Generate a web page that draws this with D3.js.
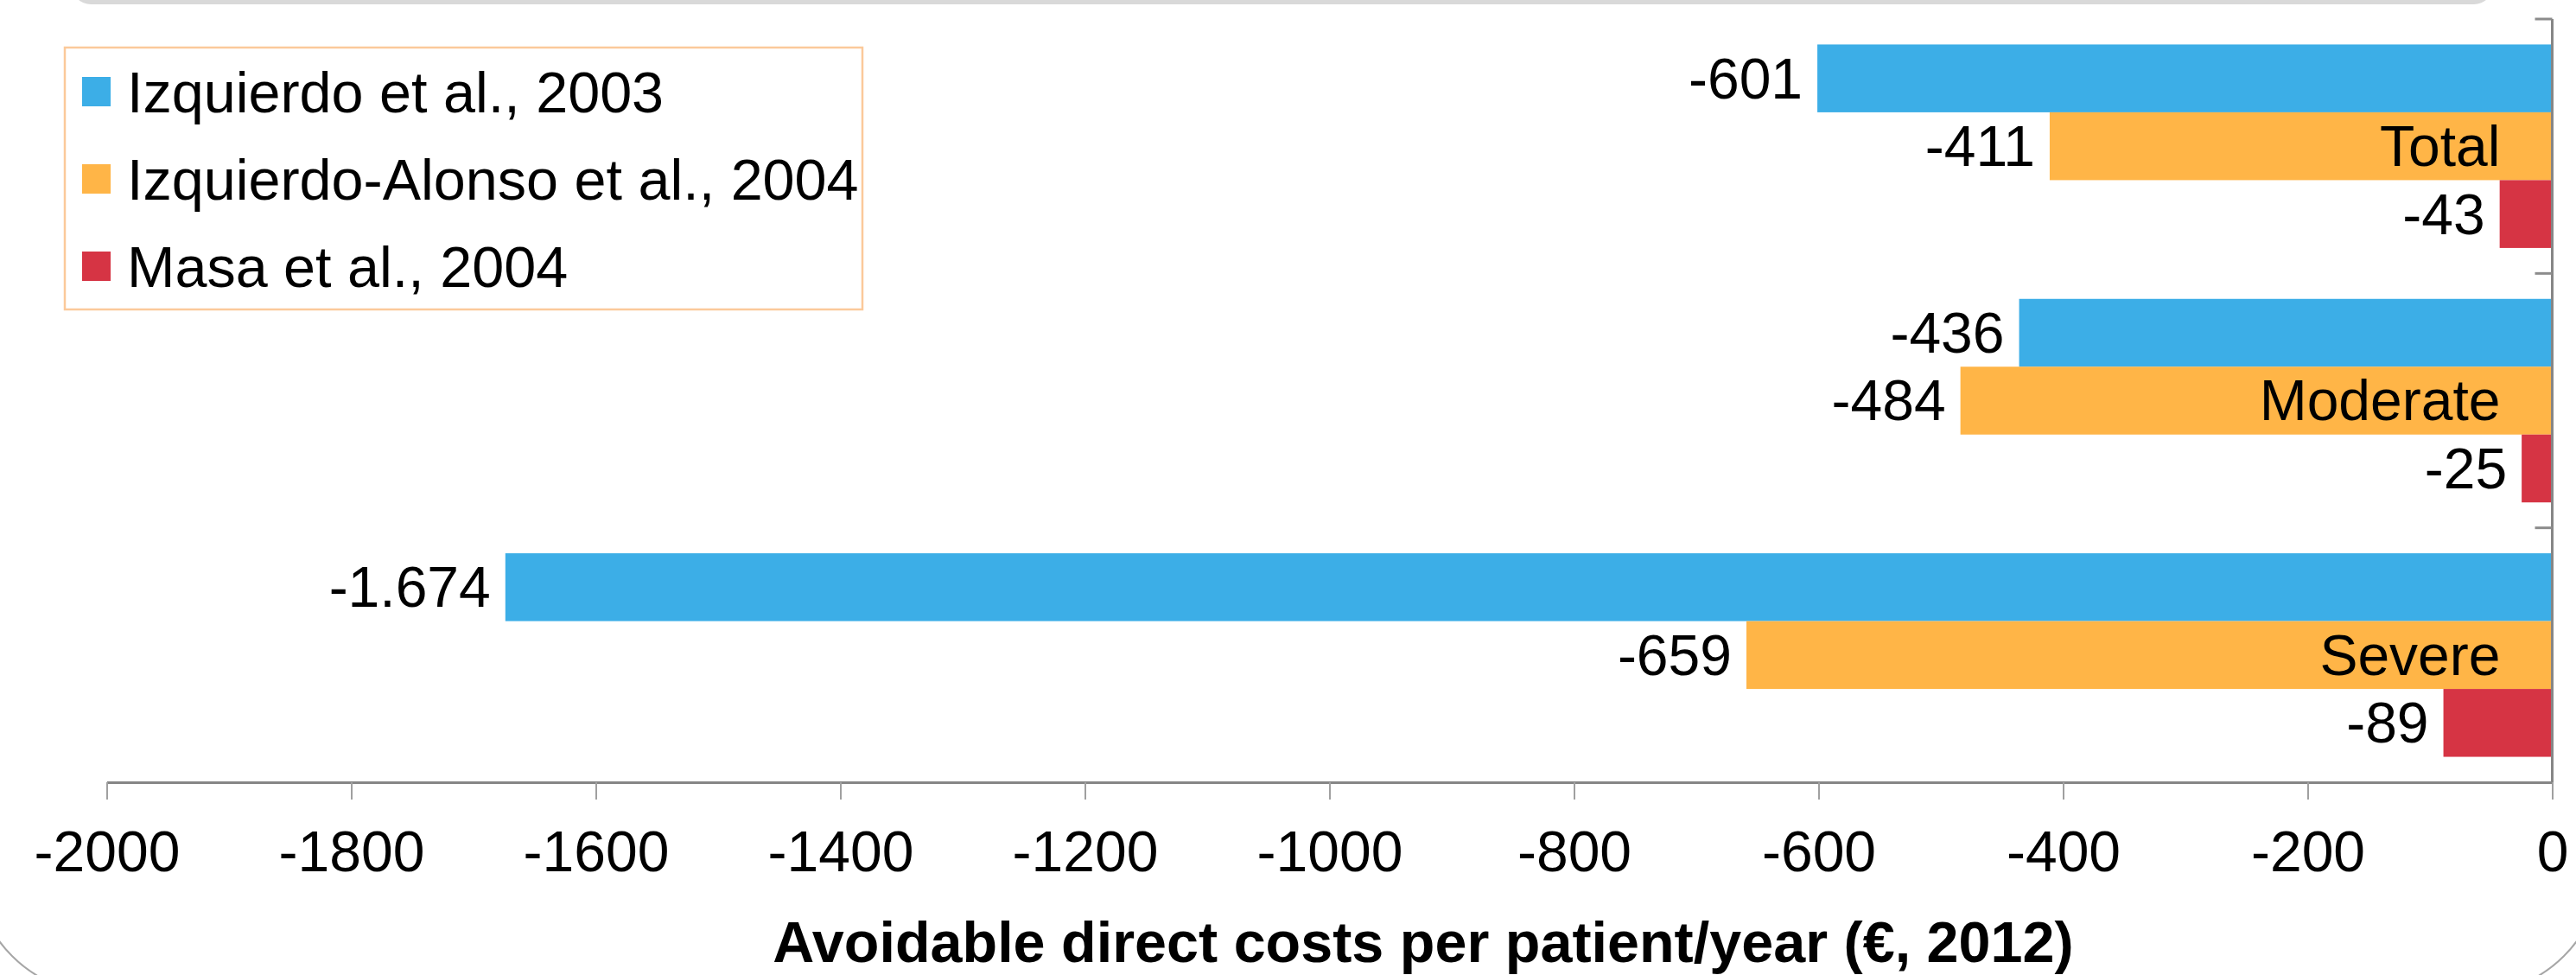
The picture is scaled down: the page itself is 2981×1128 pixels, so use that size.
<!DOCTYPE html>
<html>
<head>
<meta charset="utf-8">
<script src="https://cdn.jsdelivr.net/npm/d3@7"></script>
<style>
  html, body { margin: 0; padding: 0; background: #ffffff; }
  svg { display: block; font-family: "Liberation Sans", Arial, sans-serif; }
</style>
</head>
<body>
<svg id="chart" width="2981" height="1128"></svg>
<script>
// Avoidable direct costs per patient and year, by COPD severity
const categories = ["Total", "Moderate", "Severe"];
const seriesNames = ["Izquierdo et al., 2003", "Izquierdo-Alonso et al., 2004", "Masa et al., 2004"];
const izquierdo2003 = [-601, -436, -1674];
const izquierdoAlonso2004 = [-411, -484, -659];
const masa2004 = [-43, -25, -89];
const xTicks = [-2000, -1800, -1600, -1400, -1200, -1000, -800, -600, -400, -200, 0];
const axisTitle = "Avoidable direct costs per patient/year (€, 2012)";

const seriesValues = [izquierdo2003, izquierdoAlonso2004, masa2004];
const colors = ["#3caee7", "#ffb547", "#d63444"];

const W = 2981, H = 1128;
const FS = 66;
const plot = { left: 123.5, right: 2953.5, top: 22, bottom: 905 };

const svg = d3.select("#chart");

// decorative frame pieces
svg.append("rect")
  .attr("x", 83).attr("y", -40).attr("width", 2802).attr("height", 45)
  .attr("rx", 22).attr("fill", "#d9d9d9");
svg.append("rect")
  .attr("x", -30).attr("y", -200).attr("width", W + 60).attr("height", 1350)
  .attr("rx", 150).attr("fill", "none")
  .attr("stroke", "#a6a6a6").attr("stroke-width", 2);

const x = d3.scaleLinear().domain([-2000, 0]).range([plot.left, plot.right]);
const y = d3.scaleBand().domain(categories).range([plot.top, plot.bottom])
  .paddingInner(0.2).paddingOuter(0.1);
const ySub = d3.scaleBand().domain(d3.range(seriesNames.length)).range([0, y.bandwidth()]);

const fmt = d3.formatLocale({ decimal: ",", thousands: ".", grouping: [3], currency: ["", "€"], minus: "-" }).format(",");

// bars
const rows = categories.map((c, ci) => ({
  cat: c,
  bars: seriesValues.map((vals, si) => ({ si, value: vals[ci] }))
}));

const groups = svg.append("g").selectAll("g").data(rows).join("g")
  .attr("transform", d => `translate(0,${y(d.cat)})`);

groups.selectAll("rect").data(d => d.bars).join("rect")
  .attr("x", d => x(d.value))
  .attr("y", d => ySub(d.si))
  .attr("width", d => x(0) - x(d.value))
  .attr("height", ySub.bandwidth())
  .attr("fill", d => colors[d.si]);

// value labels
groups.selectAll("text.val").data(d => d.bars).join("text")
  .attr("class", "val")
  .attr("x", d => x(d.value) - 17)
  .attr("y", d => ySub(d.si) + ySub.bandwidth() / 2 + 23)
  .attr("text-anchor", "end")
  .attr("font-size", FS)
  .attr("fill", "#000")
  .text(d => fmt(d.value));

// category names inside the middle bar
groups.append("text")
  .attr("x", x(0) - 60)
  .attr("y", ySub(1) + ySub.bandwidth() / 2 + 23)
  .attr("text-anchor", "end")
  .attr("font-size", FS)
  .attr("fill", "#000")
  .text(d => d.cat);

// x axis
const xAxis = svg.append("g")
  .attr("transform", `translate(0,${plot.bottom})`)
  .call(d3.axisBottom(x).tickValues(xTicks).tickSize(20).tickSizeOuter(0).tickFormat(d => String(d)));
xAxis.select(".domain").attr("stroke", "#868686").attr("stroke-width", 3);
xAxis.selectAll(".tick line").attr("stroke", "#a0a0a0").attr("stroke-width", 2);
xAxis.selectAll(".tick text")
  .attr("y", 103).attr("dy", null)
  .attr("font-size", FS).attr("fill", "#000")
  .attr("font-family", "\"Liberation Sans\", Arial, sans-serif");

// y axis line with tick marks at the category boundaries
const step = y.step();
const boundaries = d3.range(categories.length).map(i => plot.top + i * step);
svg.append("line")
  .attr("x1", plot.right).attr("x2", plot.right)
  .attr("y1", plot.top).attr("y2", plot.bottom)
  .attr("stroke", "#868686").attr("stroke-width", 3);
svg.append("g").selectAll("line").data(boundaries).join("line")
  .attr("x1", plot.right - 20).attr("x2", plot.right)
  .attr("y1", d => d).attr("y2", d => d)
  .attr("stroke", "#8c8c8c").attr("stroke-width", 3);

// axis title
svg.append("text")
  .attr("x", 1647).attr("y", 1113)
  .attr("text-anchor", "middle")
  .attr("font-size", FS + 0.5).attr("font-weight", "bold")
  .attr("fill", "#000")
  .text(axisTitle);

// legend
const legend = svg.append("g");
legend.append("rect")
  .attr("x", 75).attr("y", 55).attr("width", 923).attr("height", 303)
  .attr("fill", "#fff").attr("stroke", "#fbc99a").attr("stroke-width", 2.5);
const items = legend.selectAll("g").data(seriesNames).join("g")
  .attr("transform", (d, i) => `translate(0,${106 + i * 101})`);
items.append("rect")
  .attr("x", 95).attr("y", -17).attr("width", 33).attr("height", 34)
  .attr("fill", (d, i) => colors[i]);
items.append("text")
  .attr("x", 147).attr("y", 24)
  .attr("font-size", FS + 0.5).attr("fill", "#000")
  .text(d => d);
</script>
</body>
</html>
